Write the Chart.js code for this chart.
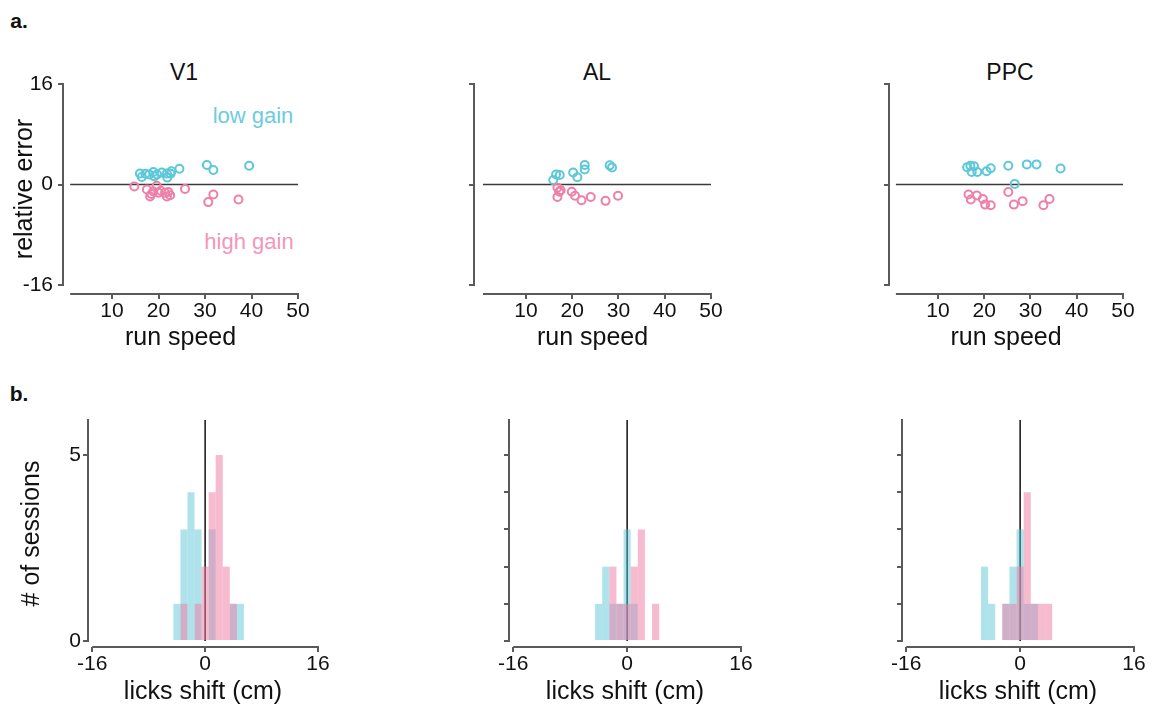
<!DOCTYPE html>
<html>
<head>
<meta charset="utf-8">
<script src="https://cdn.jsdelivr.net/npm/chart.js@4.4.1/dist/chart.umd.min.js"></script>
<style>
  body { margin: 0; background: #fff; }
  #fig { position: relative; width: 1155px; height: 704px; overflow: hidden; background: #fff;
         font-family: "Liberation Sans", Arial, sans-serif; color: #111; }
  #fig canvas { position: absolute; }
  .txt { position: absolute; transform: translate(-50%, -50%); white-space: nowrap; line-height: 1; }
</style>
</head>
<body>
<div id="fig">
  <div class="txt" style="left:19px;top:20px;font-weight:bold;font-size:21px">a.</div>
  <div class="txt" style="left:19px;top:393px;font-weight:bold;font-size:21px">b.</div>
  <div class="txt" style="left:184px;top:72px;font-size:23px">V1</div>
  <div class="txt" style="left:597px;top:72px;font-size:23px">AL</div>
  <div class="txt" style="left:1010px;top:72px;font-size:23px">PPC</div>
  <div class="txt" style="left:253px;top:116px;font-size:22px;color:rgb(108,204,222)">low gain</div>
  <div class="txt" style="left:249px;top:242px;font-size:22px;color:rgb(243,150,186)">high gain</div>
  <canvas id="sV1"></canvas>
  <canvas id="sAL"></canvas>
  <canvas id="sPPC"></canvas>
  <canvas id="hV1"></canvas>
  <canvas id="hAL"></canvas>
  <canvas id="hPPC"></canvas>
</div>
<script>
// tick labels
const speedTicks = [10, 20, 30, 40, 50];
const errorTicks = [-16, 0, 16];
const shiftTicks = [-16, 0, 16];

// scatter: [run speed, relative error]
const v1Low = [[16.0,1.75],[16.4,1.2],[17.2,1.7],[18.0,1.6],[18.9,2.0],[19.1,1.3],[19.7,1.6],[20.7,1.9],
  [21.8,1.75],[21.9,1.1],[22.6,1.7],[22.8,2.1],[24.5,2.5],[30.4,3.1],[31.8,2.3],[39.5,3.0]];
const v1High = [[14.8,-0.3],[17.5,-0.8],[18.2,-1.9],[18.5,-1.5],[18.9,-1.1],[19.6,-0.2],[20.0,-1.3],[20.5,-1.0],
  [21.4,-1.3],[21.8,-1.9],[22.1,-1.2],[22.5,-1.7],[25.7,-0.7],[30.7,-2.8],[31.8,-1.6],[37.2,-2.4]];
const alLow = [[15.9,0.7],[16.5,1.6],[17.3,1.5],[20.2,1.9],[21.1,1.15],[22.7,3.1],[22.7,2.4],[28.1,3.05],[28.6,2.7]];
const alHigh = [[16.8,-0.5],[17.2,-1.15],[16.8,-2.0],[17.5,-0.9],[19.9,-1.15],[20.6,-1.8],[22.0,-2.5],[24.0,-2.0],
  [27.2,-2.6],[29.9,-1.8]];
const ppcLow = [[16.3,2.75],[17.0,3.0],[17.8,2.9],[17.3,2.0],[18.5,2.0],[20.5,2.1],[21.4,2.6],[25.2,3.0],[29.2,3.2],
  [31.3,3.2],[36.5,2.55],[26.6,0.1]];
const ppcHigh = [[16.6,-1.6],[17.1,-2.4],[18.4,-1.75],[19.7,-2.3],[20.2,-3.2],[21.4,-3.3],[25.2,-1.2],[26.4,-3.2],
  [28.3,-2.65],[32.8,-3.3],[34.1,-2.3]];

// histograms: # of sessions per licks shift bin (cm)
const shiftBins = [-6, -5, -4, -3, -2, -1, 0, 1, 2, 3, 4, 5, 6];
const v1LowCounts  = [0, 0, 1, 3, 4, 3, 0, 3, 0, 0, 1, 1, 0];
const v1HighCounts = [0, 0, 0, 1, 0, 1, 2, 4, 5, 2, 1, 0, 0];
const alLowCounts  = [0, 0, 1, 2, 1, 1, 3, 1, 0, 0, 0, 0, 0];
const alHighCounts = [0, 0, 0, 0, 2, 1, 1, 2, 3, 0, 1, 0, 0];
const ppcLowCounts  = [0, 2, 1, 0, 1, 2, 3, 1, 1, 0, 0, 0, 0];
const ppcHighCounts = [0, 0, 0, 0, 1, 1, 2, 4, 1, 1, 1, 0, 0];

const cyan = 'rgb(92,200,218)';
const pink = 'rgb(238,128,168)';
const axisColor = '#5a5a5a';

Chart.defaults.font.family = '"Liberation Sans", Arial, sans-serif';
Chart.defaults.color = '#111';

// detached spines + zero reference line, drawn behind the marks
const framePlugin = {
  id: 'frame',
  beforeDatasetsDraw(chart, args, o) {
    const { ctx, chartArea, scales: { x, y } } = chart;
    ctx.save();
    ctx.strokeStyle = axisColor;
    ctx.lineWidth = 2;
    ctx.beginPath();
    ctx.moveTo(chartArea.left, y.getPixelForValue(o.ySpine[0]) + 1);
    ctx.lineTo(chartArea.left, y.getPixelForValue(o.ySpine[1]) - 1);
    ctx.moveTo(x.getPixelForValue(o.xSpine[0]), chartArea.bottom);
    ctx.lineTo(x.getPixelForValue(o.xSpine[1]) + 1, chartArea.bottom);
    ctx.stroke();

    ctx.strokeStyle = o.zeroColor;
    ctx.lineWidth = 1.5;
    ctx.beginPath();
    if (o.zero === 'h') {
      const py = y.getPixelForValue(0);
      ctx.moveTo(x.getPixelForValue(o.xSpine[0]), py);
      ctx.lineTo(x.getPixelForValue(o.xSpine[1]), py);
    } else {
      const px = x.getPixelForValue(0);
      ctx.moveTo(px, chartArea.top);
      ctx.lineTo(px, y.getPixelForValue(0));
    }
    ctx.stroke();
    ctx.restore();
  }
};

function axis(min, max, ticks, o) {
  return {
    type: 'linear', min, max, offset: false,
    afterBuildTicks: s => { s.ticks = ticks.map(v => ({ value: v })); },
    afterFit: s => { if (s.isHorizontal()) s.height = o.size; else s.width = o.size; },
    border: { display: false },
    grid: { offset: false, drawOnChartArea: false, drawTicks: true, tickLength: 5, color: axisColor, lineWidth: 2 },
    ticks: { display: o.labels, font: { size: 21 }, padding: o.pad, color: '#111', maxRotation: 0, autoSkip: false },
    title: { display: !!o.title, text: o.title || '', font: { size: 25 }, padding: 0, color: '#111' }
  };
}

function place(id, left, top, w, h) {
  const c = document.getElementById(id);
  c.width = w; c.height = h;
  c.style.left = left + 'px'; c.style.top = top + 'px';
  return c;
}

const baseOptions = {
  responsive: false, animation: false, devicePixelRatio: 1, events: []
};

function scatterPanel(id, b, low, high) {
  const c = place(id, b.cx, 40, b.cw, 313);
  new Chart(c, {
    type: 'scatter',
    data: {
      datasets: [
        { data: high.map(([x, y]) => ({ x, y })), borderColor: pink },
        { data: low.map(([x, y]) => ({ x, y })), borderColor: cyan }
      ].map(d => Object.assign(d, { backgroundColor: 'rgba(0,0,0,0)', pointRadius: 4, borderWidth: 2 }))
    },
    options: Object.assign({}, baseOptions, {
      layout: { padding: { left: b.padL, top: 44, right: b.padR, bottom: 0 } },
      scales: {
        x: axis(b.xMin, 50, speedTicks, { size: 59, labels: true, title: 'run speed', pad: 0 }),
        y: axis(-17.43, 16, errorTicks, { size: b.yw, labels: b.showY, title: b.showY ? 'relative error' : '', pad: 5 })
      },
      plugins: {
        legend: { display: false }, tooltip: { enabled: false },
        frame: { xSpine: [b.xStart, 50], ySpine: [-16, 16], zero: 'h', zeroColor: '#3a3a3a' }
      }
    }),
    plugins: [framePlugin]
  });
}

function histPanel(id, b, low, high, yTicks) {
  const c = place(id, b.cx, 380, b.cw, 327);
  const bars = (counts, color) => ({
    data: shiftBins.map((v, i) => ({ x: v, y: counts[i] })),
    backgroundColor: color, grouped: false, barPercentage: 1, categoryPercentage: 1,
    borderWidth: 0, inflateAmount: 0
  });
  new Chart(c, {
    type: 'bar',
    data: {
      datasets: [
        bars(high, 'rgba(240,125,165,0.52)'),
        bars(low, 'rgba(85,196,216,0.48)')
      ]
    },
    options: Object.assign({}, baseOptions, {
      layout: { padding: { left: b.padL, top: 40, right: b.padR, bottom: 0 } },
      scales: {
        x: axis(-16.6, 16, shiftTicks, { size: 60, labels: true, title: 'licks shift (cm)', pad: 0 }),
        y: axis(-0.16, 5.94, yTicks, { size: b.yw, labels: b.showY, title: b.showY ? '# of sessions' : '', pad: 2 })
      },
      plugins: {
        legend: { display: false }, tooltip: { enabled: false },
        frame: { xSpine: [-16, 16], ySpine: [0, 5.94], zero: 'v', zeroColor: '#111' }
      }
    }),
    plugins: [framePlugin]
  });
}

scatterPanel('sV1', { cx: 0, cw: 330, padL: 10, yw: 53, padR: 32, xMin: -0.54, xStart: 1.0, showY: true }, v1Low, v1High);
scatterPanel('sAL', { cx: 420, cw: 320, padL: 0, yw: 54, padR: 29, xMin: -1.24, xStart: 0.7, showY: false }, alLow, alHigh);
scatterPanel('sPPC', { cx: 835, cw: 320, padL: 0, yw: 54, padR: 32, xMin: -0.59, xStart: 0.9, showY: false }, ppcLow, ppcHigh);

histPanel('hV1', { cx: 0, cw: 340, padL: 17, yw: 71, padR: 22, showY: true }, v1LowCounts, v1HighCounts, [0, 5]);
histPanel('hAL', { cx: 440, cw: 320, padL: 0, yw: 69, padR: 19, showY: false }, alLowCounts, alHighCounts, [0, 1, 2, 3, 4, 5]);
histPanel('hPPC', { cx: 835, cw: 320, padL: 0, yw: 67, padR: 21, showY: false }, ppcLowCounts, ppcHighCounts, [0, 1, 2, 3, 4, 5]);
</script>
</body>
</html>
